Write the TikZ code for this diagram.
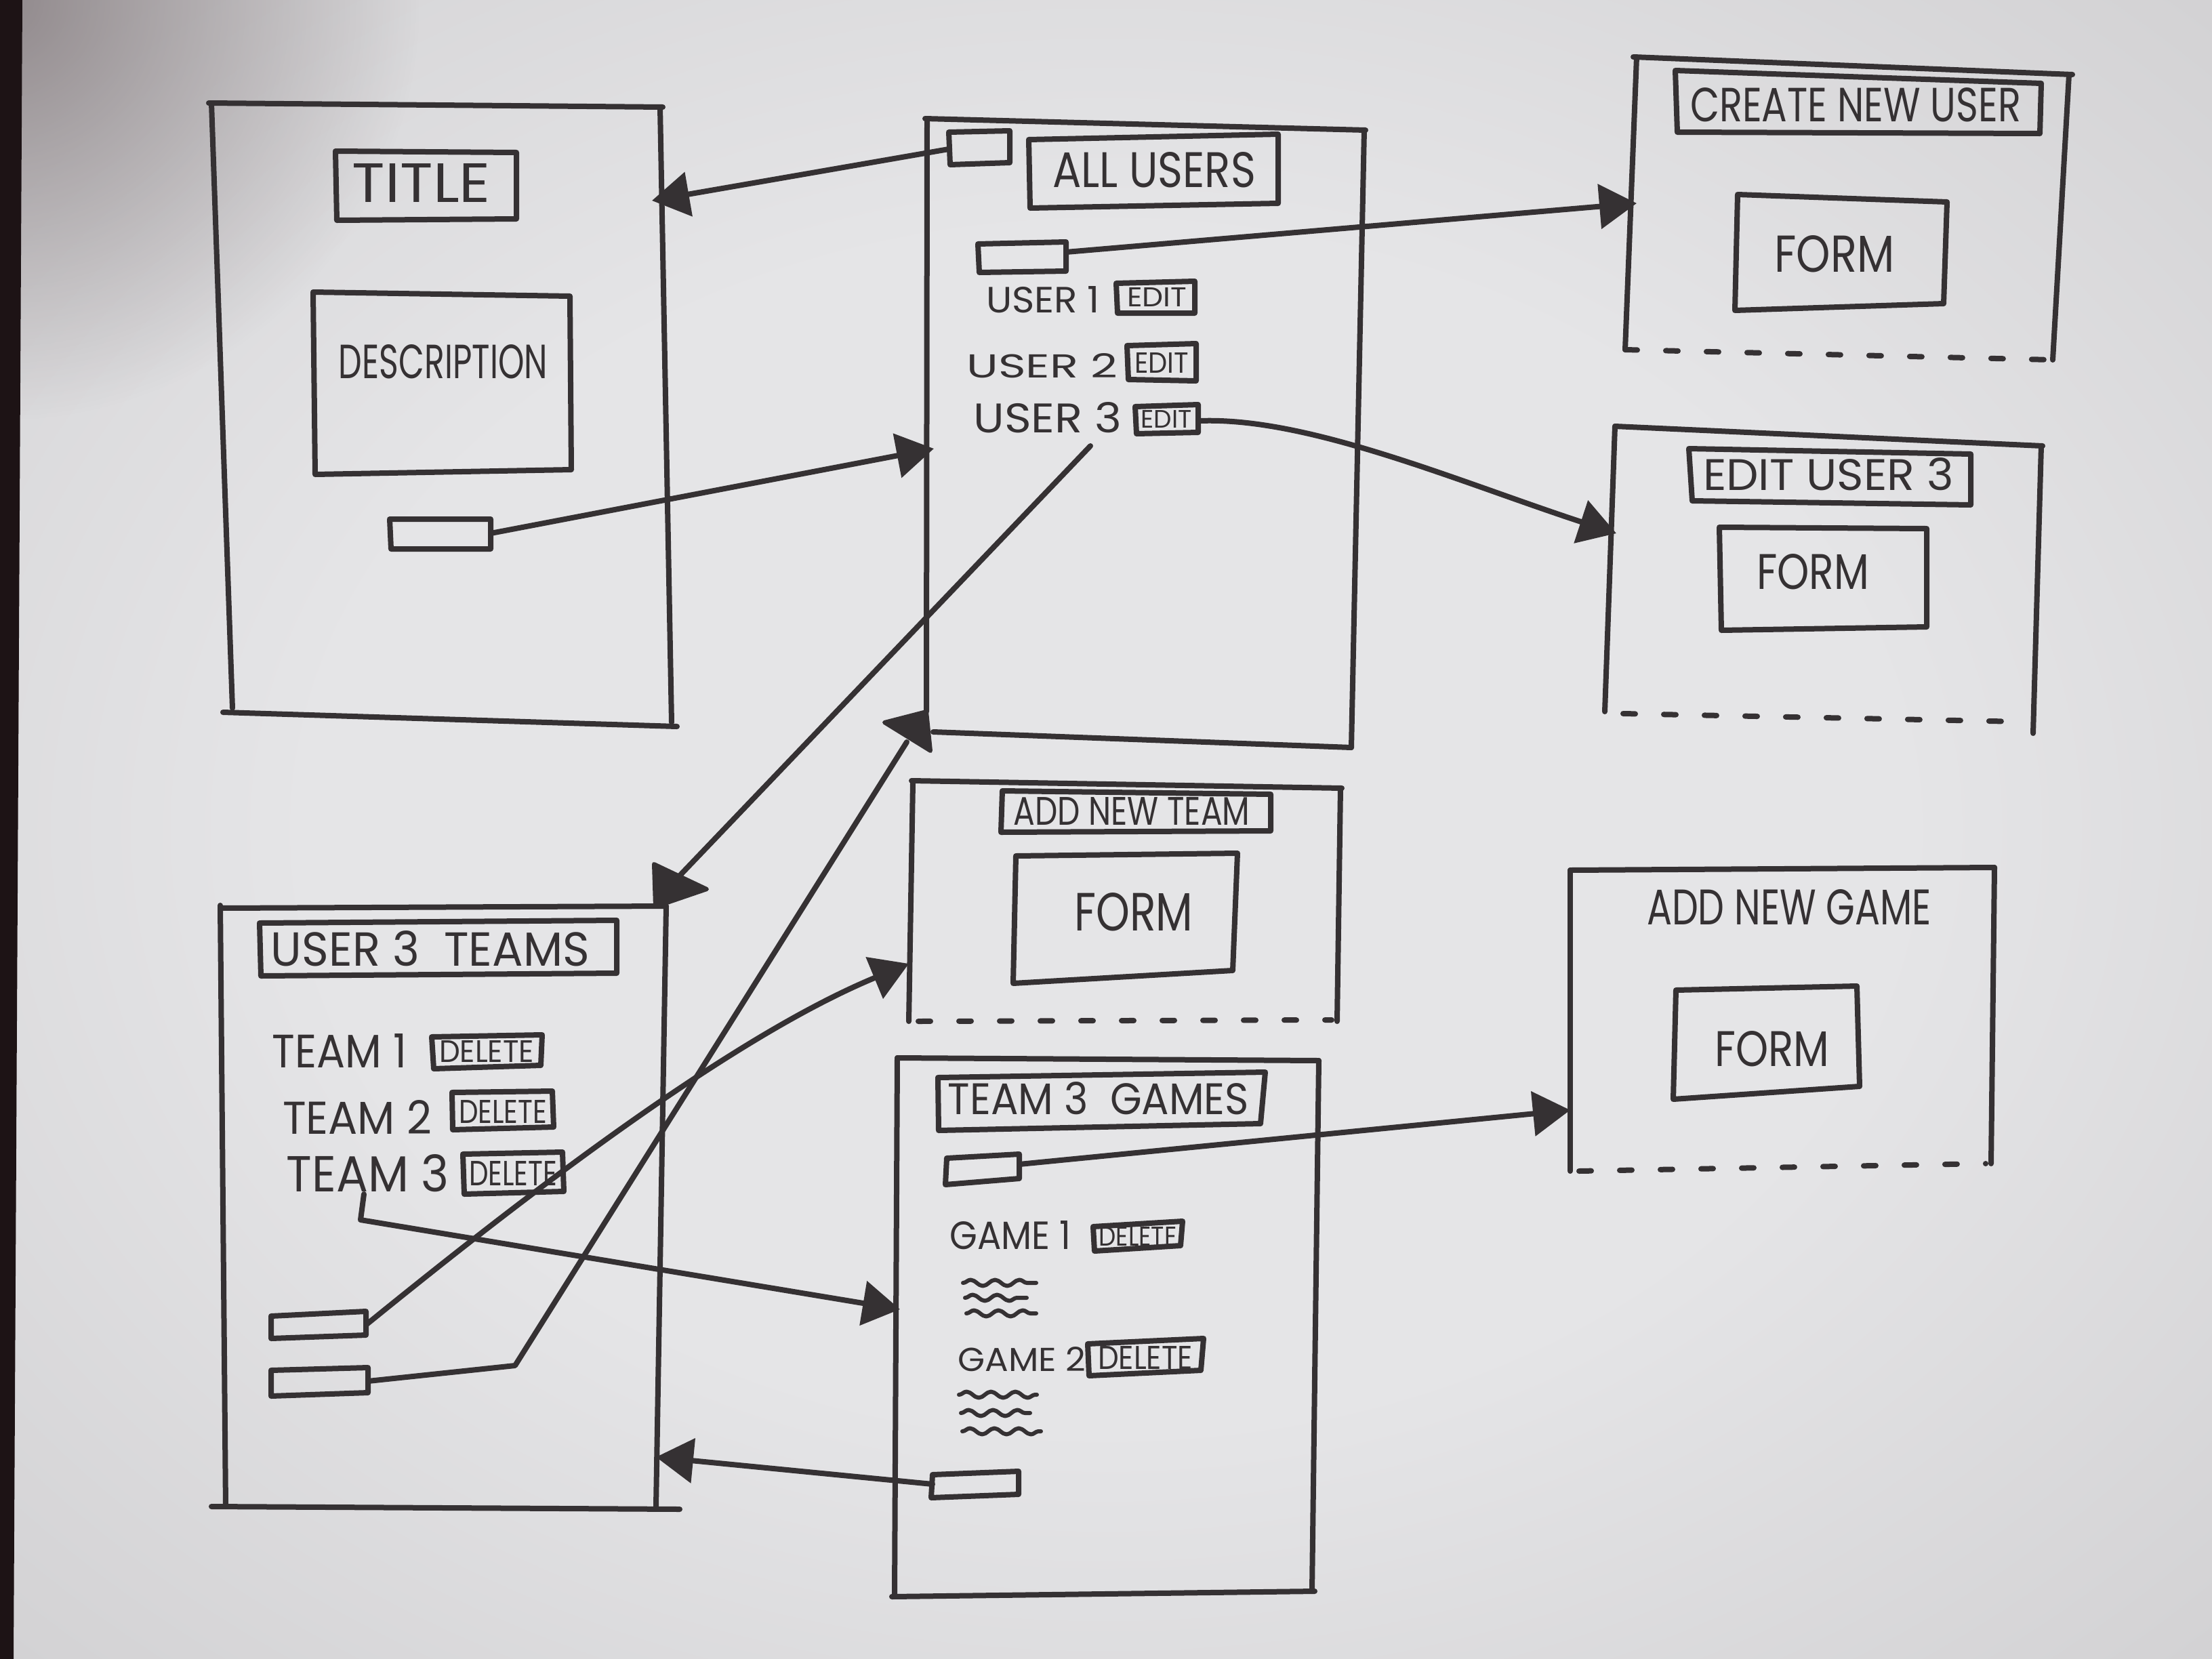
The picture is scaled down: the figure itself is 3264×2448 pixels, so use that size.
\documentclass[tikz,border=0pt]{standalone}
\usepackage{fontspec}
\setmainfont{Poppins}
\usepackage{graphicx}
\usetikzlibrary{arrows.meta,decorations.pathmorphing,fadings}

% one drawing unit = 0.1mm
\newlength\pxu
\setlength\pxu{0.1mm}
% text squeezed into a given width and cap height
\newcommand\handtext[3]{\resizebox{#1\pxu}{#2\pxu}{#3}}

\definecolor{ink}{HTML}{353133}
\definecolor{paperA}{HTML}{E5E5E7}
\definecolor{paperB}{HTML}{D2D1D3}
\definecolor{paperShadow}{HTML}{80777A}
\definecolor{desk}{HTML}{1D1315}

\pgfdeclareradialshading{paper}{\pgfpoint{0bp}{0bp}}{%
  color(0bp)=(paperA); color(18bp)=(paperA); color(36bp)=(paperB);
  color(50bp)=(paperB)}
\tikzfading[name=cornerfade, inner color=transparent!0, outer color=transparent!100]

\tikzset{
  pen/.style={draw=ink, line width=0.8mm, line cap=round, line join=round},
  conn/.style={pen, -{Triangle[length=5.5mm,width=6.5mm]}},
  head/.style={fill=ink, draw=ink, line width=0.6mm, line join=round},
  open/.style={pen, dash pattern=on 1.8mm off 4.2mm},
  txt/.style={inner sep=0pt, text=ink},
  wave/.style={pen, line width=0.6mm, decorate,
    decoration={snake, amplitude=0.45mm, segment length=3.6mm}},
}

\begin{document}
\begin{tikzpicture}[x=0.1mm, y=-0.1mm]
\useasboundingbox (0,0) rectangle (3264,2448);
% paper with a soft shadow in its upper left corner
\shade[shading=paper] (0,0) rectangle (3264,2448);
\begin{scope}
  \clip (0,0) rectangle (3264,2448);
  \fill[paperShadow, path fading=cornerfade, fill opacity=0.8] (0,0) circle (620);
\end{scope}
\fill[desk] (0,0) -- (33,0) -- (20,2448) -- (0,2448) -- cycle;

% ---------- landing screen ----------
\draw[pen] (308,152) -- (978,158);
\draw[pen] (312,152) -- (343,1045);
\draw[pen] (974,158) -- (991,1066);
\draw[pen] (329,1051) -- (999,1072);
\draw[pen] (495,223) -- (762,225) -- (762,323) -- (497,325) -- cycle;
\node[txt] (tTitle) at (622,270) {\handtext{204}{57}{TITLE}};
\draw[pen] (462,431) -- (841,437) -- (843,693) -- (465,700) -- cycle;
\node[txt] (tDesc) at (654,534) {\handtext{308}{50}{DESCRIPTION}};
\draw[pen] (575,766) -- (724,766) -- (724,810) -- (577,810) -- cycle;
\coordinate (b1) at (724,787);
\coordinate (s1in) at (962,296);

% ---------- all users ----------
\draw[pen] (1365,175) -- (2015,192);
\draw[pen] (1368,175) -- (1367,1050);
\draw[pen] (2013,192) -- (1994,1103);
\draw[pen] (1377,1080) -- (1994,1103);
\draw[pen] (1400,195) -- (1490,193) -- (1490,240) -- (1402,243) -- cycle;
\coordinate (b2a) at (1400,220);
\draw[pen] (1518,206) -- (1886,198) -- (1886,300) -- (1520,307) -- cycle;
\node[txt] (tAll) at (1703,251) {\handtext{300}{52}{ALL USERS}};
\draw[pen] (1443,360) -- (1573,357) -- (1573,400) -- (1445,402) -- cycle;
\coordinate (b2b) at (1573,372);
\node[txt] (tU1) at (1539,442) {\handtext{168}{39}{USER 1}};
\draw[pen] (1647,418) -- (1763,415) -- (1763,462) -- (1649,462) -- cycle;
\node[txt] (tE1) at (1707,438) {\handtext{88}{28}{EDIT}};
\node[txt] (tU2) at (1538,540) {\handtext{223}{36}{USER 2}};
\draw[pen] (1663,510) -- (1765,507) -- (1765,562) -- (1665,560) -- cycle;
\node[txt] (tE2) at (1714,535) {\handtext{80}{30}{EDIT}};
\node[txt] (tU3) at (1546,616) {\handtext{219}{45}{USER 3}};
\draw[pen] (1675,600) -- (1768,597) -- (1768,638) -- (1677,640) -- cycle;
\node[txt] (tE3) at (1721,618) {\handtext{75}{26}{EDIT}};
\coordinate (e3) at (1770,621);
\coordinate (u3) at (1609,658);
\coordinate (s2in) at (1378,662);

% ---------- create new user ----------
\draw[pen] (2410,84) -- (3058,110);
\draw[pen] (2415,84) -- (2398,516);
\draw[pen] (3053,110) -- (3029,531);
\draw[open] (2398,516) -- (3029,531);
\draw[pen] (2472,104) -- (3012,123) -- (3010,197) -- (2475,195) -- cycle;
\node[txt] (tCreate) at (2738,155) {\handtext{488}{50}{CREATE NEW USER}};
\draw[pen] (2564,287) -- (2873,298) -- (2868,448) -- (2560,458) -- cycle;
\node[txt] (tForm1) at (2707,375) {\handtext{177}{54}{FORM}};
\coordinate (s3in) at (2415,300);

% ---------- edit user 3 ----------
\draw[pen] (2383,629) -- (3014,658);
\draw[pen] (2383,629) -- (2368,1050);
\draw[pen] (3012,658) -- (3000,1082);
\draw[open] (2395,1053) -- (2985,1065);
\draw[pen] (2492,662) -- (2908,670) -- (2908,745) -- (2497,739) -- cycle;
\node[txt] (tEditU) at (2698,700) {\handtext{370}{48}{EDIT USER 3}};
\draw[pen] (2537,778) -- (2843,780) -- (2843,925) -- (2540,930) -- cycle;
\node[txt] (tForm2) at (2675,844) {\handtext{166}{52}{FORM}};
\coordinate (s4in) at (2385,787);

% ---------- add new team ----------
\draw[pen] (1345,1152) -- (1980,1163);
\draw[pen] (1347,1155) -- (1341,1507);
\draw[pen] (1978,1163) -- (1973,1507);
\draw[open] (1355,1507) -- (1965,1505);
\draw[pen] (1479,1167) -- (1875,1172) -- (1875,1226) -- (1477,1228) -- cycle;
\node[txt] (tAddTeam) at (1670,1197) {\handtext{349}{41}{ADD NEW TEAM}};
\draw[pen] (1499,1263) -- (1826,1259) -- (1819,1432) -- (1495,1451) -- cycle;
\node[txt] (tForm3) at (1673,1346) {\handtext{175}{56}{FORM}};
\coordinate (s5in) at (1341,1422);

% ---------- add new game ----------
\draw[pen] (2317,1284) -- (2943,1280);
\draw[pen] (2317,1284) -- (2317,1728);
\draw[pen] (2943,1280) -- (2938,1717);
\draw[open] (2330,1728) -- (2930,1717);
\node[txt] (tAddGame) at (2640,1339) {\handtext{420}{52}{ADD NEW GAME}};
\draw[pen] (2473,1461) -- (2740,1455) -- (2744,1603) -- (2469,1622) -- cycle;
\node[txt] (tForm4) at (2615,1548) {\handtext{169}{52}{FORM}};
\coordinate (s6in) at (2317,1638);

% ---------- user 3 teams ----------
\draw[pen] (325,1340) -- (983,1337);
\draw[pen] (325,1336) -- (333,2223);
\draw[pen] (983,1337) -- (968,2223);
\draw[pen] (312,2223) -- (1003,2227);
\draw[pen] (383,1362) -- (910,1358) -- (910,1436) -- (385,1440) -- cycle;
\node[txt] (tTeams) at (635,1400) {\handtext{470}{52}{USER 3\ \ TEAMS}};
\node[txt] (tT1) at (501,1550) {\handtext{198}{50}{TEAM 1}};
\draw[pen] (637,1530) -- (800,1527) -- (798,1572) -- (640,1577) -- cycle;
\node[txt] (tD1) at (718,1551) {\handtext{140}{32}{DELETE}};
\node[txt] (tT2) at (527,1648) {\handtext{220}{50}{TEAM 2}};
\draw[pen] (667,1612) -- (815,1610) -- (817,1663) -- (668,1667) -- cycle;
\node[txt] (tD2) at (742,1640) {\handtext{130}{34}{DELETE}};
\node[txt] (tT3) at (543,1731) {\handtext{240}{55}{TEAM 3}};
\draw[pen] (683,1703) -- (830,1700) -- (832,1758) -- (685,1762) -- cycle;
\node[txt] (tD3) at (757,1731) {\handtext{130}{36}{DELETE}};
\draw[pen] (400,1942) -- (540,1935) -- (540,1970) -- (400,1975) -- cycle;
\draw[pen] (400,2022) -- (543,2018) -- (543,2055) -- (400,2060) -- cycle;
\coordinate (t3) at (537,1762);
\coordinate (c7bend) at (532,1800);
\coordinate (tb1) at (540,1955);
\coordinate (tb2) at (543,2038);
\coordinate (c6bend) at (760,2015);
\coordinate (c6end) at (1338,1095);
\coordinate (c5end) at (1003,1292);
\coordinate (s7in) at (968,2150);

% ---------- team 3 games ----------
\draw[pen] (1324,1561) -- (1946,1565);
\draw[pen] (1324,1561) -- (1320,2356);
\draw[pen] (1946,1565) -- (1936,2348);
\draw[pen] (1316,2356) -- (1940,2348);
\draw[pen] (1384,1590) -- (1867,1582) -- (1860,1658) -- (1385,1668) -- cycle;
\node[txt] (tGames) at (1621,1621) {\handtext{444}{48}{TEAM 3\ \ GAMES}};
\draw[pen] (1397,1709) -- (1504,1703) -- (1504,1739) -- (1395,1748) -- cycle;
\coordinate (g3btn) at (1504,1718);
\node[txt] (tG1) at (1491,1823) {\handtext{179}{42}{GAME 1}};
\draw[pen] (1613,1810) -- (1745,1802) -- (1742,1838) -- (1615,1846) -- cycle;
\node[txt] (tGD1) at (1679,1824) {\handtext{115}{28}{DELETE}};
\draw[wave] (1421,1893) -- (1529,1893);
\draw[wave] (1424,1915) -- (1515,1915);
\draw[wave] (1426,1938) -- (1529,1938);
\node[txt] (tG2) at (1508,2006) {\handtext{189}{36}{GAME 2}};
\draw[pen] (1605,1983) -- (1776,1975) -- (1772,2022) -- (1607,2030) -- cycle;
\node[txt] (tGD2) at (1690,2003) {\handtext{140}{34}{DELETE}};
\draw[wave] (1415,2058) -- (1530,2058);
\draw[wave] (1418,2085) -- (1520,2085);
\draw[wave] (1420,2112) -- (1536,2112);
\draw[pen] (1376,2176) -- (1503,2171) -- (1503,2205) -- (1374,2210) -- cycle;
\coordinate (g3back) at (1376,2190);
\coordinate (s8in) at (1328,1932);

% ---------- navigation ----------
\draw[conn] (b2a) -- (s1in);
\draw[conn] (b1) -- (s2in);
\draw[conn] (b2b) -- (s3in);
\draw[conn] (e3) .. controls (1930,615) and (2150,710) .. (s4in);
\draw[pen] (u3) -- (c5end);
\fill[head] (965,1275) -- (1043,1312) -- (967,1338) -- cycle;
\draw[pen] (tb2) -- (c6bend) -- (c6end);
\fill[head] (1305,1066) -- (1367,1050) -- (1373,1108) -- cycle;
\draw[conn] (t3) -- (c7bend) -- (s8in);
\draw[conn] (tb1) .. controls (780,1760) and (1080,1530) .. (s5in);
\draw[conn] (g3btn) -- (s6in);
\draw[conn] (g3back) -- (s7in);
\end{tikzpicture}
\end{document}
